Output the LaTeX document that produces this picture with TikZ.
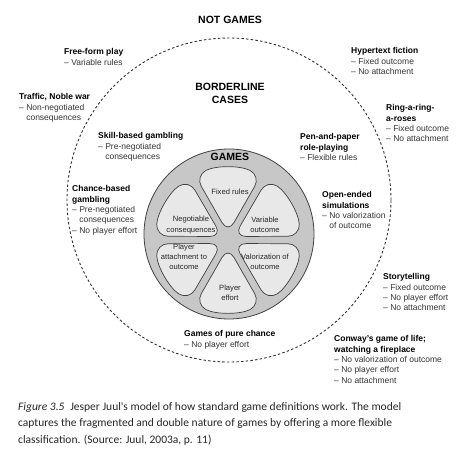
\documentclass[tikz,border=0pt]{standalone}
\usepackage{fontspec}
\setmainfont{Liberation Sans}
\newfontfamily\capfont{Carlito}
\usetikzlibrary{positioning}
\tikzset{head/.style={font=\fontsize{10.5}{13}\selectfont\bfseries,align=center,inner sep=0pt},
  lbl/.style={anchor=north west,align=left,inner sep=0pt,font=\fontsize{8.5}{10.3}\selectfont,text=black!80},
  plbl/.style={align=center,inner sep=0pt,font=\fontsize{7.6}{10.2}\selectfont,text=black!85},
  petal/.style={draw=black!75,line width=0.7pt,fill=black!9,rounded corners=12pt},
  disc/.style={draw=black!75,line width=0.8pt,fill=black!22},
  border/.style={draw=black!80,line width=0.9pt,dash pattern=on 2.5pt off 2.2pt},
  captext/.style={anchor=north west,align=left,inner sep=0pt,font=\capfont\fontsize{11.5}{16.5}\selectfont,text=black!85}}
\newcommand{\hd}[1]{\textbf{\color{black}#1}}
\newcommand{\ind}{\phantom{– }}

\begin{document}
\begin{tikzpicture}[x=1pt,y=1pt]
\useasboundingbox (-229,-269) rectangle (245,200);
% circles
\draw[border] (0,0) circle(162);
\draw[disc] (0,-34) circle(85);
\coordinate (pc) at (-1,-40);
\foreach \ang/\px/\py/\txt in {90/1/8/Fixed rules,30/36/-25/Variable\\outcome,
    -30/36/-62/Valorization of\\outcome,-90/1/-93/Player\\effort,
    -150/-45/-57/Player\\attachment to\\outcome,150/-38/-25/Negotiable\\consequences}
  {\draw[petal,shift={(pc)}] (\ang:7) -- (\ang-27:72) arc[start angle=\ang-27,end angle=\ang+27,radius=72] -- cycle;
   \node[plbl] (p\ang) at (\px,\py) {\txt};}
% headings
\node[head] (notgames) at (1,180) {NOT GAMES};
\node[head] (borderline) at (1,106.5) {BORDERLINE\\CASES};
\node[head] (games) at (1,43) {GAMES};
% left side
\node[lbl] (freeform) at (-165,151.5) {\hd{Free-form play}\\– Variable rules};
\node[lbl] (traffic) at (-210,106.5) {\hd{Traffic, Noble war}\\– Non-negotiated\\\ind consequences};
\node[lbl] (skill) at (-131,67.5) {\hd{Skill-based gambling}\\– Pre-negotiated\\\ind consequences};
\node[lbl] (chance) at (-157,14.5) {\hd{Chance-based}\\\hd{gambling}\\– Pre-negotiated\\\ind consequences\\– No player effort};
\node[lbl] (pure) at (-45,-130.5) {\hd{Games of pure chance}\\– No player effort};
% right side
\node[lbl] (hyper) at (122,152.5) {\hd{Hypertext fiction}\\– Fixed outcome\\– No attachment};
\node[lbl] (ring) at (157,95.5) {\hd{Ring-a-ring-}\\\hd{a-roses}\\– Fixed outcome\\– No attachment};
\node[lbl] (penpaper) at (71,66.5) {\hd{Pen-and-paper}\\\hd{role-playing}\\– Flexible rules};
\node[lbl] (openended) at (93,8.5) {\hd{Open-ended}\\\hd{simulations}\\– No valorization\\\ind of outcome};
\node[lbl] (story) at (154,-73.5) {\hd{Storytelling}\\– Fixed outcome\\– No player effort\\– No attachment};
\node[lbl] (conway) at (105,-135.5) {\hd{Conway's game of life;}\\\hd{watching a fireplace}\\– No valorization of outcome\\– No player effort\\– No attachment};
% caption
\node[captext] (caption) at (-211,-202) {\textit{Figure 3.5}\enspace Jesper Juul's model of how standard game definitions work. The model\\captures the fragmented and double nature of games by offering a more flexible\\classification. (Source: Juul, 2003a, p. 11)};
\end{tikzpicture}
\end{document}
